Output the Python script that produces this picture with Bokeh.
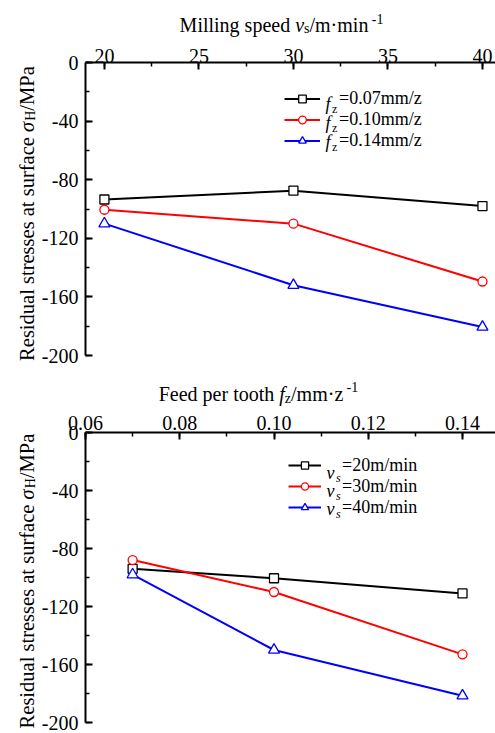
import math
from bokeh.plotting import figure
from bokeh.models import (Range1d, Label, Legend, LegendItem, SingleIntervalTicker,
                          NumeralTickFormatter)
from bokeh.layouts import column, row
from bokeh.embed import file_html
from bokeh.resources import INLINE

# ---------------- data ----------------
speed = [20, 30, 40]                     # milling speed v_s (m/min)
fz_007 = [-93.5, -87.5, -98.0]           # f_z = 0.07 mm/z
fz_010 = [-100.5, -110.0, -149.5]        # f_z = 0.10 mm/z
fz_014 = [-110.0, -152.0, -180.5]        # f_z = 0.14 mm/z
top_series = ["=0.07mm/z", "=0.10mm/z", "=0.14mm/z"]

feed = [0.07, 0.10, 0.14]                # feed per tooth f_z (mm/z)
vs_20 = [-94.0, -100.5, -111.0]          # v_s = 20 m/min
vs_30 = [-88.0, -110.0, -153.0]          # v_s = 30 m/min
vs_40 = [-98.0, -150.0, -181.5]          # v_s = 40 m/min
bottom_series = ["=20m/min", "=30m/min", "=40m/min"]

colors = ["black", "red", "blue"]
markers = ["square", "circle", "triangle"]

FONT = "Liberation Serif"
MID = 0.3375   # distance (in em) from the alphabetic baseline up to the middle of the text box

# --------- approximate Times metrics for placing rich text ----------
W = {' ': 250, '/': 278, '-': 333, '.': 250, '=': 564, '\u00b7': 250, '\u03c3': 549}
for d in "0123456789":
    W[d] = 500
W.update(dict(A=722, B=667, C=667, D=722, E=611, F=556, G=722, H=722, I=333, J=389, K=722,
              L=611, M=889, N=722, O=722, P=556, Q=722, R=667, S=556, T=611, U=722, V=722,
              W=944, X=722, Y=722, Z=611))
W.update(dict(a=444, b=500, c=444, d=500, e=444, f=333, g=500, h=500, i=278, j=278, k=500,
              l=278, m=778, n=500, o=500, p=500, q=500, r=333, s=389, t=278, u=500, v=500,
              w=722, x=500, y=500, z=444))
ITAL = {'f': 278, 'v': 444, 's': 389, 'z': 389, '\u03c3': 549}


def tw(s, size, italic=False):
    tot = 0
    for ch in s:
        tot += ITAL[ch] if (italic and ch in ITAL) else W.get(ch, 500)
    return tot * size / 1000.0


def piece_size(kind, size):
    return size if kind in ("n", "i") else round(size * 0.68)


def rich_text(p, pieces, center, base, size, vertical=False, sub_off=3.0):
    """base = alphabetic baseline (screen units inside the text figure)."""
    widths = [tw(t, piece_size(k, size), k in ("i", "si")) for t, k in pieces]
    pos = center - sum(widths) / 2.0
    for (t, k), w in zip(pieces, widths):
        fs = piece_size(k, size)
        off = {"n": 0, "i": 0, "sub": -sub_off, "si": -sub_off, "sup": 0.42 * size}[k]
        mid = base + off + MID * fs
        if vertical:
            x, y, ang = 2 * base - mid, pos, math.pi / 2
        else:
            x, y, ang = pos, mid, 0
        p.add_layout(Label(x=x, y=y, x_units="screen", y_units="screen", text=t, angle=ang,
                           text_font=FONT, text_font_size=f"{fs}px",
                           text_font_style="italic" if k in ("i", "si") else "normal",
                           text_baseline="middle", text_align="left", text_color="black"))
        pos += w


def no_align(f):
    try:
        f.frame_align = False
    except Exception:
        pass


def text_fig(width, height):
    f = figure(width=width, height=height, output_backend="svg", toolbar_location=None,
               x_range=Range1d(0, 1), y_range=Range1d(0, 1),
               x_axis_location=None, y_axis_location=None, min_border=0)
    f.outline_line_color = None
    f.background_fill_color = "white"
    f.border_fill_color = "white"
    for g in f.xgrid + f.ygrid:
        g.visible = False
    no_align(f)
    return f


LEFT_W = 38   # width of the strip that carries the vertical axis title


def make_fig(x_range, height, top_border, bottom_border, x_standoff):
    p = figure(width=495 - LEFT_W, height=height, output_backend="svg", toolbar_location=None,
               x_range=x_range, y_range=Range1d(-200, 0), x_axis_location="above",
               min_border_left=82 - LEFT_W, min_border_right=0, min_border_top=top_border,
               min_border_bottom=bottom_border)
    p.outline_line_color = None
    p.xgrid.visible = False
    p.ygrid.visible = False
    p.background_fill_color = "white"
    p.border_fill_color = "white"
    for ax in (p.xaxis[0], p.yaxis[0]):
        ax.axis_line_width = 2
        ax.axis_line_color = "black"
        ax.major_tick_line_width = 2
        ax.minor_tick_line_width = 1.5
        ax.major_tick_line_color = "black"
        ax.minor_tick_line_color = "black"
        ax.major_tick_in = 7
        ax.major_tick_out = 0
        ax.minor_tick_in = 4
        ax.minor_tick_out = 0
        ax.major_label_text_font = FONT
        ax.major_label_text_font_size = "20px"
        ax.major_label_text_color = "black"
    p.xaxis[0].major_label_standoff = x_standoff
    p.yaxis[0].major_label_standoff = 7
    p.yaxis[0].ticker = SingleIntervalTicker(interval=40, num_minor_ticks=2)
    p.yaxis[0].formatter = NumeralTickFormatter(format="0")
    no_align(p)
    return p


prefix_style = {"z": "normal", "s": "italic"}


def add_series(p, xs, ys_list, labels, prefix, glyph_w, row_h, leg_x, leg_y, standoff):
    items = []
    for ys, c, m, lab in zip(ys_list, colors, markers, labels):
        r1 = p.line(xs, ys, line_color=c, line_width=2)
        r2 = p.scatter(xs, ys, marker=m, size=9 if m != "triangle" else 11,
                       fill_color="white", line_color=c, line_width=1.3)
        items.append(LegendItem(label=lab, renderers=[r1, r2]))
    leg = Legend(items=items, location=(leg_x, leg_y), padding=0, margin=0, spacing=0,
                 glyph_width=glyph_w, glyph_height=row_h, label_height=row_h,
                 label_standoff=standoff, border_line_color=None, background_fill_alpha=0,
                 label_text_font=FONT, label_text_font_size="18px", label_text_color="black")
    p.add_layout(leg)
    sym, sub = prefix
    for i in range(len(labels)):
        yc = leg_y + row_h * (len(labels) - i) - row_h / 2.0
        x0 = leg_x + glyph_w + 5
        p.add_layout(Label(x=x0, y=yc, x_units="screen", y_units="screen", text=sym,
                           text_font=FONT, text_font_size="18px", text_font_style="italic",
                           text_baseline="middle", text_align="left", text_color="black"))
        p.add_layout(Label(x=x0 + tw(sym, 18, True) + 1.5, y=yc - 5, x_units="screen",
                           y_units="screen", text=sub, text_font=FONT, text_font_size="12px",
                           text_font_style=prefix_style[sub], text_baseline="middle",
                           text_align="left", text_color="black"))


ylabel = [("Residual stresses at surface ", "n"), ("\u03c3", "i"), ("H", "sub"), (" /MPa", "n")]

# ---------------- top chart (canvas rows 0..370) ----------------
t1 = text_fig(495, 37)
rich_text(t1, [("Milling speed ", "n"), ("v", "i"), ("s", "sub"), (" /m\u00b7min", "n"), ("-1", "sup")],
          center=281, base=37 - 31.2, size=20, sub_off=2)
y1 = text_fig(LEFT_W, 333)
rich_text(y1, ylabel, center=370 - 210.5, base=33, size=20.5, vertical=True, sub_off=1.5)

p1 = make_fig(Range1d(19.0, 40.69), 333, 25, 15, 0)
p1.xaxis[0].ticker = SingleIntervalTicker(interval=5, num_minor_ticks=2)
add_series(p1, speed, [fz_007, fz_010, fz_014], top_series, ("f", "z"),
           glyph_w=36, row_h=19, leg_x=199, leg_y=204.5, standoff=19)

# ---------------- bottom chart (canvas rows 370..733) ----------------
t2 = text_fig(495, 36)
rich_text(t2, [("Feed per tooth ", "n"), ("f", "i"), ("z", "sub"), (" /mm\u00b7z", "n"), ("-1", "sup")],
          center=258, base=406 - 400.0, size=20, sub_off=2.5)
y2 = text_fig(LEFT_W, 327)
rich_text(y2, ylabel, center=733 - 578, base=33, size=20.5, vertical=True, sub_off=1.5)

p2 = make_fig(Range1d(0.06, 0.147), 327, 26, 11, 3)
p2.xaxis[0].ticker = SingleIntervalTicker(interval=0.02, num_minor_ticks=2)
p2.xaxis[0].formatter = NumeralTickFormatter(format="0.00")
add_series(p2, feed, [vs_20, vs_30, vs_40], bottom_series, ("v", "s"),
           glyph_w=33, row_h=18, leg_x=203, leg_y=204.5, standoff=21)

layout = column(t1, row(y1, p1, spacing=0), t2, row(y2, p2, spacing=0), spacing=0)
open("out.html", "w").write(file_html(layout, INLINE))
